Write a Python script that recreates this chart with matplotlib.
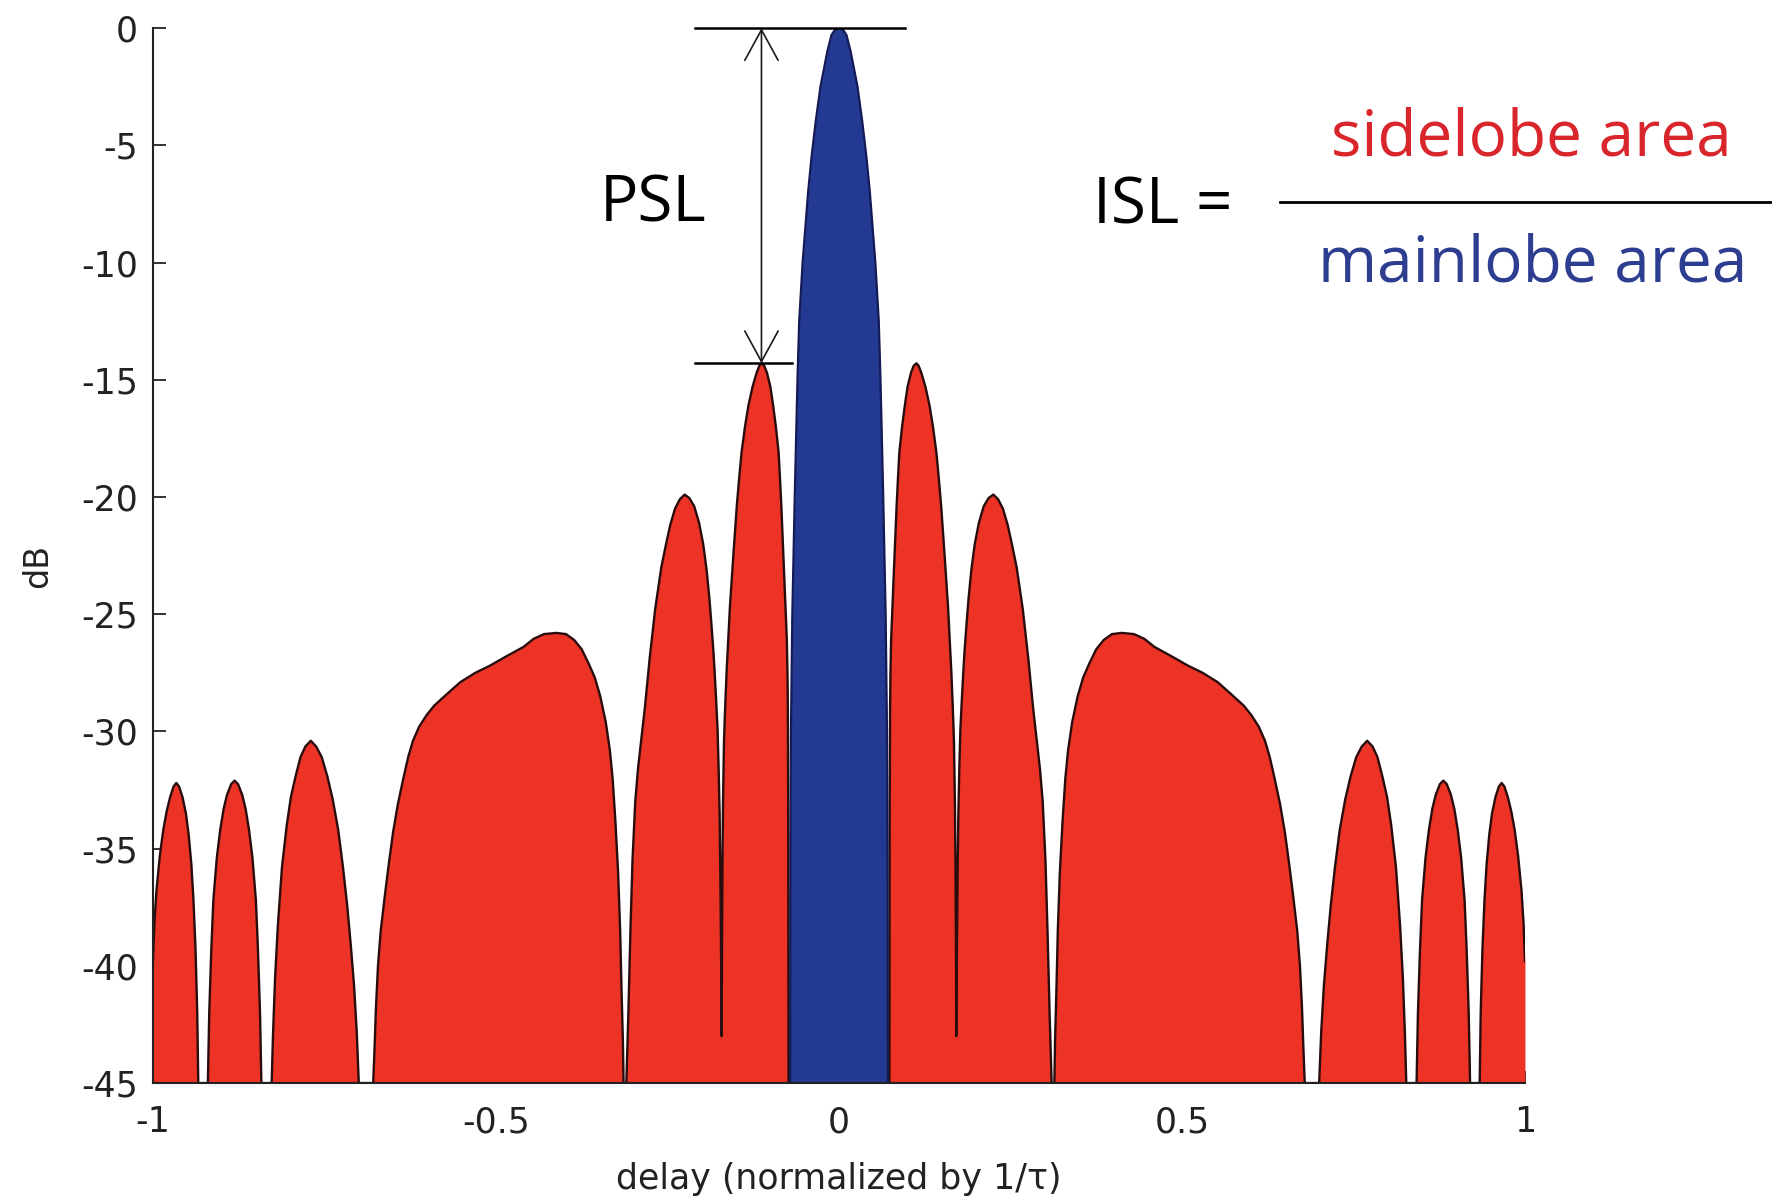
import numpy as np
import matplotlib
matplotlib.use("Agg")
import matplotlib.pyplot as plt

# ----------------------------
# Autocorrelation outline, left half (curve is symmetric)
# ----------------------------
SIDE_DELAY = [
    # lobe 1 (clipped at -1)
    -1.000, -0.998, -0.995, -0.990, -0.985, -0.980, -0.975, -0.970, -0.966,
    -0.962, -0.957, -0.952, -0.948, -0.944, -0.941, -0.938, -0.9355, -0.934,
    # lobe 2
    -0.920, -0.918, -0.915, -0.912, -0.907, -0.902, -0.897, -0.892, -0.886, -0.881,
    -0.876, -0.870, -0.865, -0.860, -0.855, -0.850, -0.847, -0.844, -0.842,
    # lobe 3
    -0.827, -0.825, -0.822, -0.818, -0.812, -0.805, -0.799, -0.792, -0.785, -0.778, -0.770,
    -0.762, -0.754, -0.746, -0.738, -0.730, -0.723, -0.717, -0.712, -0.707, -0.703, -0.700,
    # lobe 4 (wide shoulder lobe)
    -0.679, -0.677, -0.675, -0.672, -0.668, -0.662, -0.656, -0.650, -0.643, -0.635,
    -0.628, -0.621, -0.612, -0.601, -0.590, -0.575, -0.552, -0.530, -0.509, -0.485,
    -0.460, -0.445, -0.430, -0.412, -0.398, -0.386, -0.375, -0.365, -0.356, -0.348,
    -0.340, -0.334, -0.330, -0.326, -0.322, -0.319, -0.317, -0.315, -0.314,
    # lobe 5
    -0.310, -0.307, -0.304, -0.301, -0.297, -0.293, -0.288, -0.283, -0.276, -0.268,
    -0.259, -0.252, -0.246, -0.239, -0.232, -0.225, -0.218, -0.211, -0.204, -0.198,
    -0.193, -0.189, -0.186, -0.183, -0.181, -0.179, -0.177, -0.1755, -0.174, -0.173,
    -0.172, -0.171,
    # lobe 6 (peak sidelobe)
    -0.1705, -0.1698, -0.169, -0.1676, -0.1657, -0.1637, -0.1613, -0.159, -0.154, -0.149,
    -0.1455, -0.142, -0.137, -0.132, -0.126, -0.120, -0.116, -0.113, -0.109, -0.105,
    -0.100, -0.096, -0.092, -0.088, -0.086, -0.084, -0.082, -0.080, -0.078, -0.076,
    -0.075, -0.0745, -0.074, -0.0738, -0.0735,
]
SIDE_DB = [
    -39.8, -38.2, -36.8, -35.3, -34.2, -33.4, -32.8, -32.35, -32.2,
    -32.35, -32.8, -33.5, -34.4, -35.7, -37.2, -39.3, -42.0, -45.0,
    -45.0, -42.0, -39.3, -37.2, -35.4, -34.2, -33.3, -32.7, -32.25, -32.1,
    -32.25, -32.7, -33.3, -34.2, -35.4, -37.2, -39.3, -42.0, -45.0,
    -45.0, -42.9, -40.5, -38.3, -35.8, -34.0, -32.8, -31.9, -31.1, -30.65, -30.4,
    -30.65, -31.1, -31.9, -32.9, -34.2, -35.8, -37.4, -39.0, -40.8, -42.8, -45.0,
    -45.0, -43.5, -41.8, -40.0, -38.5, -37.0, -35.6, -34.3, -33.1, -32.0,
    -31.1, -30.4, -29.8, -29.3, -28.9, -28.5, -27.9, -27.5, -27.2, -26.8,
    -26.4, -26.05, -25.85, -25.8, -25.85, -26.1, -26.5, -27.1, -27.7, -28.5,
    -29.6, -30.8, -32.0, -33.8, -36.0, -38.5, -41.0, -43.2, -45.0,
    -45.0, -42.0, -38.5, -35.5, -33.0, -31.6, -30.3, -29.0, -26.9, -24.8,
    -23.0, -22.0, -21.2, -20.5, -20.1, -19.9, -20.05, -20.4, -21.1, -22.0,
    -23.1, -24.3, -25.4, -26.6, -27.6, -28.7, -29.9, -31.5, -33.5, -36.0,
    -39.0, -43.0,
    -39.0, -35.5, -33.0, -30.4, -28.8, -27.4, -26.0, -24.7, -22.5, -20.4,
    -19.2, -18.1, -17.0, -16.1, -15.3, -14.7, -14.4, -14.3, -14.4, -14.7,
    -15.3, -16.1, -17.0, -18.1, -19.2, -20.4, -21.8, -23.2, -24.6, -26.1,
    -27.6, -29.0, -33.0, -38.0, -45.0,
]

MAIN_DELAY = [-0.0712, -0.0708, -0.0700, -0.0680, -0.0645, -0.0605, -0.0580, -0.0530,
              -0.0490, -0.0450, -0.0400, -0.0340, -0.0270, -0.0170, -0.0110,
              -0.0060, 0.0]
MAIN_DB = [-45.0, -35.0, -30.0, -25.0, -20.0, -15.0, -12.5, -10.0,
           -8.5, -7.0, -5.5, -4.0, -2.5, -1.0, -0.3,
           -0.08, 0.0]

X_TICKS = [-1, -0.5, 0, 0.5, 1]
X_TICK_LABELS = ["-1", "-0.5", "0", "0.5", "1"]
Y_TICKS = [0, -5, -10, -15, -20, -25, -30, -35, -40, -45]
Y_TICK_LABELS = ["0", "-5", "-10", "-15", "-20", "-25", "-30", "-35", "-40", "-45"]
FLOOR_DB = -45

# annotation placement (data units)
MARK_LEFT = -0.21
MARK_TOP_RIGHT = 0.096
MARK_LOW_RIGHT = -0.069
FRAC_LEFT, FRAC_RIGHT, FRAC_DB = 0.643, 1.357, -7.42

SIDE_COLOR = "#ec3326"
MAIN_COLOR = "#243a92"

# ----------------------------
# Build the symmetric curves
# ----------------------------
side_x = np.array(SIDE_DELAY)
side_y = np.array(SIDE_DB)
red_x = np.concatenate([side_x, -side_x[::-1]])
red_y = np.concatenate([side_y, side_y[::-1]])

main_x = np.array(MAIN_DELAY)
main_y = np.array(MAIN_DB)
blue_x = np.concatenate([main_x, -main_x[:-1][::-1]])
blue_y = np.concatenate([main_y, main_y[:-1][::-1]])

psl_db = side_y.max()
psl_delay = side_x[side_y.argmax()]

# ----------------------------
# Plot
# ----------------------------
fig = plt.figure(figsize=(17.79, 11.99), dpi=100)
ax = fig.add_axes([0.086, 0.0967, 0.7712, 0.8799])

ax.fill_between(red_x, red_y, FLOOR_DB, color=SIDE_COLOR, lw=0, zorder=1)
ax.plot(red_x, red_y, color="#2a0c0c", lw=1.7, zorder=1.1)
ax.fill_between(blue_x, blue_y, FLOOR_DB, color=MAIN_COLOR, lw=0, zorder=1.2)
ax.plot(blue_x, blue_y, color="#141a55", lw=1.6, zorder=1.3)

ax.set_xlim(-1, 1)
ax.set_ylim(FLOOR_DB, 0)
ax.set_xticks(X_TICKS)
ax.set_xticklabels(X_TICK_LABELS)
ax.set_yticks(Y_TICKS)
ax.set_yticklabels(Y_TICK_LABELS)
ax.set_axisbelow(True)
ax.tick_params(direction="in", length=9, width=1.3, labelsize=25, colors="#222222")
ax.tick_params(axis="x", pad=16)
ax.tick_params(axis="y", pad=11)
ax.spines["top"].set_visible(False)
ax.spines["right"].set_visible(False)
for s in ["left", "bottom"]:
    ax.spines[s].set_linewidth(1.5)
    ax.spines[s].set_color("#222222")

ax.set_xlabel("delay (normalized by 1/\u03c4)", fontsize=25, color="#222222")
ax.set_ylabel("dB", fontsize=24, color="#222222")
ax.xaxis.set_label_coords(0.5, -0.075)
ax.yaxis.set_label_coords(-0.072, 0.49)

# PSL marker
ax.plot([MARK_LEFT, MARK_TOP_RIGHT], [0, 0], color="black", lw=1.8, clip_on=False, zorder=3)
ax.plot([MARK_LEFT, MARK_LOW_RIGHT], [psl_db, psl_db], color="black", lw=1.8, clip_on=False, zorder=3)
ax.annotate("", xy=(psl_delay, psl_db), xytext=(psl_delay, 0),
            arrowprops=dict(arrowstyle="<->, head_length=0.55, head_width=0.3",
                            mutation_scale=40, lw=1.2, color="#1a1a1a",
                            shrinkA=0, shrinkB=0), zorder=3)
ax.text(-0.271, -8.23, "PSL", fontsize=46, family="Open Sans",
        ha="center", va="baseline", color="black")

# ISL formula
ax.text(0.4716, -8.32, "ISL =", fontsize=46, family="Open Sans",
        ha="center", va="baseline", color="black", clip_on=False)
ax.plot([FRAC_LEFT, FRAC_RIGHT], [FRAC_DB, FRAC_DB], color="black", lw=2.0, clip_on=False)
ax.text(1.009, -5.43, "sidelobe area", fontsize=46, family="Open Sans",
        ha="center", va="baseline", color="#d8262c", clip_on=False)
ax.text(1.011, -10.8, "mainlobe area", fontsize=46, family="Open Sans",
        ha="center", va="baseline", color="#2d3e91", clip_on=False)

fig.savefig("out.png", dpi=100)
